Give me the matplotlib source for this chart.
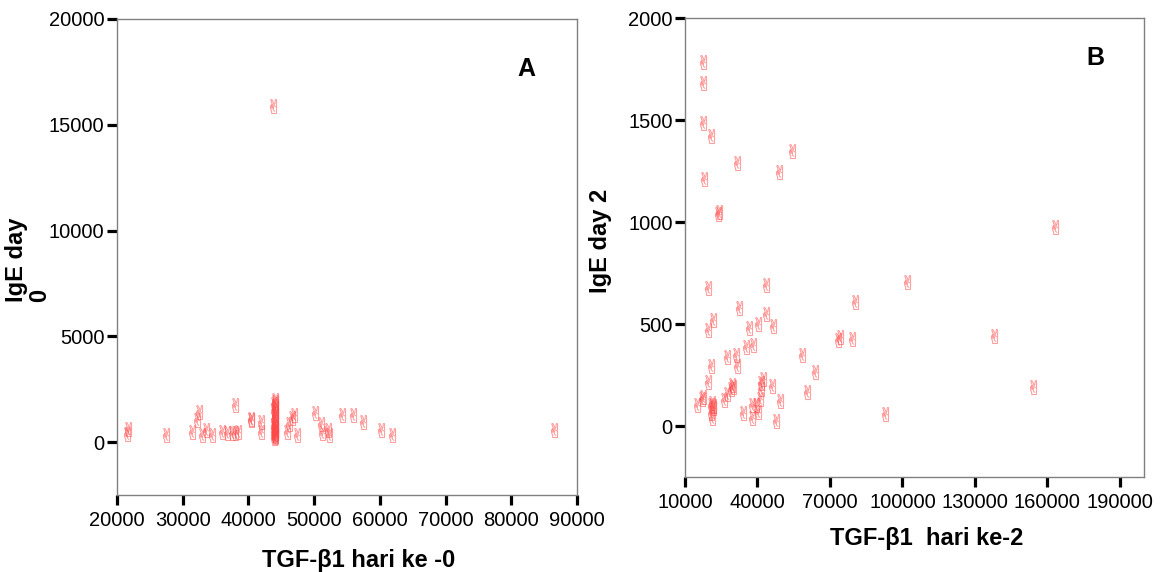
# plot.py
# Scatter of IgE vs TGF-beta1, day 0 (A) and day 2 (B)

import matplotlib
matplotlib.use('agg')
import matplotlib.pyplot as plt
from matplotlib.textpath import TextPath
from matplotlib.font_manager import FontProperties
from matplotlib.path import Path

plt.rcParams['font.family'] = ['Liberation Sans', 'DejaVu Sans']

### Data ###

# Panel A: TGF-b1 day 0 vs IgE day 0
tgf_day0 = [21500, 21700, 27460, 31460, 32130, 32480, 32880, 33540, 34400,
            35930, 36690, 37450, 37960, 37960, 38460, 40390, 40450, 41910,
            41910,
            43700,
            43900, 44000, 44100, 43900, 44000, 44100, 43900, 44000, 44100,
            43950, 44050, 43900, 44000, 44100, 43950, 44050, 44000, 44100,
            43900, 44000, 44050, 43950, 44000, 44100,
            45920, 46180, 46560, 46990, 47440, 50130, 51040, 51140, 52150,
            52300, 54280, 55960, 57480, 60120, 61800, 86500]
ige_day0 = [400, 600, 330, 490, 1040, 1420, 330, 570, 330,
            490, 440, 420, 1750, 420, 490, 1040, 1100, 960,
            490,
            15900,
            200, 250, 300, 350, 400, 450, 500, 550, 600,
            650, 700, 800, 900, 1000, 1100, 1200, 1300, 1400,
            1500, 1600, 1700, 1800, 1900, 2000,
            490, 880, 1120, 1280, 330, 1360, 880, 410, 570,
            330, 1280, 1280, 930, 570, 330, 570]

# Panel B: TGF-b1 day 2 vs IgE day 2
tgf_day2 = [17560, 17560, 17560, 20730, 31340, 17970, 23750, 24100, 54460,
            48930, 19630, 43720, 32290, 21430, 19630, 43720, 40260, 36540,
            46450, 35180, 37950, 27460, 31050, 31340, 20730, 19630, 58420,
            63660, 80460, 101770, 74290, 73170, 79220, 60650, 92850, 15080,
            16890, 17560, 20610, 21000, 21400, 20800, 21300, 21700, 26100,
            27460, 29000, 29600, 30000, 34070, 37530, 37530, 39180, 40260,
            41240, 41370, 41660, 42320, 46040, 49220, 47850, 163150, 137970,
            154200]
ige_day2 = [1786, 1683, 1484, 1422, 1288, 1209, 1039, 1050, 1350,
            1247, 675, 691, 577, 520, 470, 547, 500, 479,
            490, 389, 397, 340, 348, 296, 296, 214, 348,
            266, 609, 704, 438, 422, 425, 165, 59, 103,
            131, 144, 103, 113, 90, 65, 40, 100, 127,
            155, 180, 200, 190, 62, 38, 103, 103, 70,
            132, 180, 209, 229, 198, 124, 26, 977, 441,
            190]

# victory-hand glyph as marker, centred on the point
_tp = TextPath((0, 0), '\u270c', size=1, prop=FontProperties(family='DejaVu Sans'))
_ext = _tp.get_extents()
_verts = _tp.vertices - [(_ext.x0 + _ext.x1) / 2, (_ext.y0 + _ext.y1) / 2]
MARK = Path(_verts, _tp.codes)
MCOLOR = '#ff4848'


def style_axes(ax):
    for sp in ax.spines.values():
        sp.set_color('#808080')
        sp.set_linewidth(1.0)
    ax.tick_params(direction='out', length=7, width=2.3, color='black',
                   labelsize=14.5, top=False, right=False)
    ax.tick_params(axis='x', pad=4.5)
    ax.tick_params(axis='y', pad=2)


fig = plt.figure(figsize=(11.63, 5.72), dpi=100)

# Panel A
ax1 = fig.add_axes([0.1006, 0.1346, 0.3955, 0.8322])
ax1.plot(tgf_day0, ige_day0, ls='none', marker=MARK, markersize=11,
         color=MCOLOR, markeredgewidth=0.3, alpha=0.45)
ax1.set_xlim(20000, 90000)
ax1.set_ylim(-2500, 20000)
ax1.set_xticks(range(20000, 90001, 10000))
ax1.set_yticks(range(0, 20001, 5000))
style_axes(ax1)
ax1.set_xlabel('TGF-\u03b21 hari ke -0', fontsize=17, fontweight='bold')
ax1.set_ylabel('IgE day\n0', fontsize=17, fontweight='bold', linespacing=1.0,
               multialignment='left')
ax1.xaxis.set_label_coords(0.526, -0.113)
ax1.yaxis.set_label_coords(-0.143, 0.495)
ax1.text(0.891, 0.895, 'A', transform=ax1.transAxes, fontsize=18,
         fontweight='bold', ha='center', va='center')

# Panel B
ax2 = fig.add_axes([0.589, 0.166, 0.3947, 0.8024])
ax2.plot(tgf_day2, ige_day2, ls='none', marker=MARK, markersize=11,
         color=MCOLOR, markeredgewidth=0.3, alpha=0.45)
ax2.set_xlim(10000, 200000)
ax2.set_ylim(-250, 2000)
ax2.set_xticks(range(10000, 190001, 30000))
ax2.set_yticks(range(0, 2001, 500))
style_axes(ax2)
ax2.set_xlabel('TGF-\u03b21  hari ke-2', fontsize=17, fontweight='bold')
ax2.set_ylabel('IgE day 2', fontsize=17, fontweight='bold')
ax2.xaxis.set_label_coords(0.527, -0.109)
ax2.yaxis.set_label_coords(-0.159, 0.514)
ax2.text(0.893, 0.914, 'B', transform=ax2.transAxes, fontsize=18,
         fontweight='bold', ha='center', va='center')

plt.savefig('out.png', dpi=100)
